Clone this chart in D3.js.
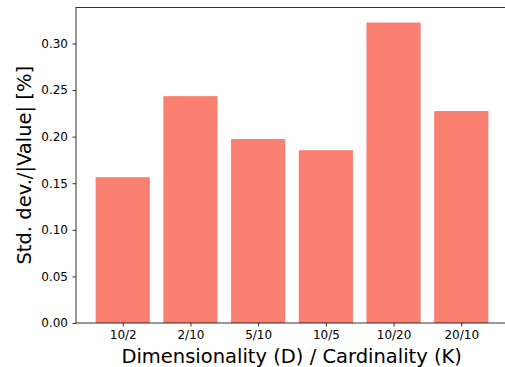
<!DOCTYPE html>
<html>
<head>
<meta charset="utf-8">
<script src="https://cdn.jsdelivr.net/npm/d3@7"></script>
<style>
  body { margin: 0; background: #fff; }
  svg { display: block; font-family: "DejaVu Sans", sans-serif; }
</style>
</head>
<body>
<script>
var categories = ["10/2", "2/10", "5/10", "10/5", "10/20", "20/10"];
var values = [0.1565, 0.2435, 0.1975, 0.1855, 0.3225, 0.2275];
var yTicks = [0.00, 0.05, 0.10, 0.15, 0.20, 0.25, 0.30];

var width = 505, height = 367;
var axLeft = 76, axRight = 508, axTop = 7.5, axBottom = 323;

var svg = d3.select("body").append("svg")
    .attr("width", width)
    .attr("height", height);

// matplotlib-like bar positions: bar width 0.8, 5% margins
var x = d3.scaleLinear()
    .domain([-0.4 - 0.29, 5.4 + 0.29])
    .range([axLeft, axRight]);

var y = d3.scaleLinear()
    .domain([0, 0.3225 * 1.05])
    .range([axBottom, axTop]);

svg.selectAll(".bar")
    .data(values)
    .enter().append("rect")
    .attr("class", "bar")
    .attr("x", function (d, i) { return x(i - 0.4); })
    .attr("width", function (d, i) { return x(i + 0.4) - x(i - 0.4); })
    .attr("y", function (d) { return y(d); })
    .attr("height", function (d) { return y(0) - y(d); })
    .style("fill", "#FA8072");

var xAxis = svg.append("g")
    .attr("transform", "translate(0," + axBottom + ")")
    .call(d3.axisBottom(x)
        .tickValues(d3.range(categories.length))
        .tickFormat(function (d) { return categories[d]; })
        .tickSize(3.5)
        .tickPadding(4));

var yAxis = svg.append("g")
    .attr("transform", "translate(" + axLeft + ",0)")
    .call(d3.axisLeft(y)
        .tickValues(yTicks)
        .tickFormat(d3.format(".2f"))
        .tickSize(3.5)
        .tickPadding(4.5));

[xAxis, yAxis].forEach(function (g) {
    g.select(".domain").remove();
    g.selectAll("line").attr("stroke", "#000").attr("stroke-width", 0.8);
    g.selectAll("text").attr("font-size", "12px").attr("font-family", "DejaVu Sans").attr("fill", "#000");
});

// spines
svg.append("rect")
    .attr("x", axLeft)
    .attr("y", axTop)
    .attr("width", axRight - axLeft)
    .attr("height", axBottom - axTop)
    .style("fill", "none")
    .style("stroke", "#000")
    .style("stroke-width", 0.8);

svg.append("text")
    .attr("x", 291.7)
    .attr("y", 363)
    .attr("text-anchor", "middle")
    .attr("font-size", "19.5px")
    .text("Dimensionality (D) / Cardinality (K)");

svg.append("text")
    .attr("transform", "translate(31," + (axTop + axBottom) / 2 + ") rotate(-90)")
    .attr("text-anchor", "middle")
    .attr("font-size", "19.5px")
    .text("Std. dev./|Value| [%]");
</script>
</body>
</html>
